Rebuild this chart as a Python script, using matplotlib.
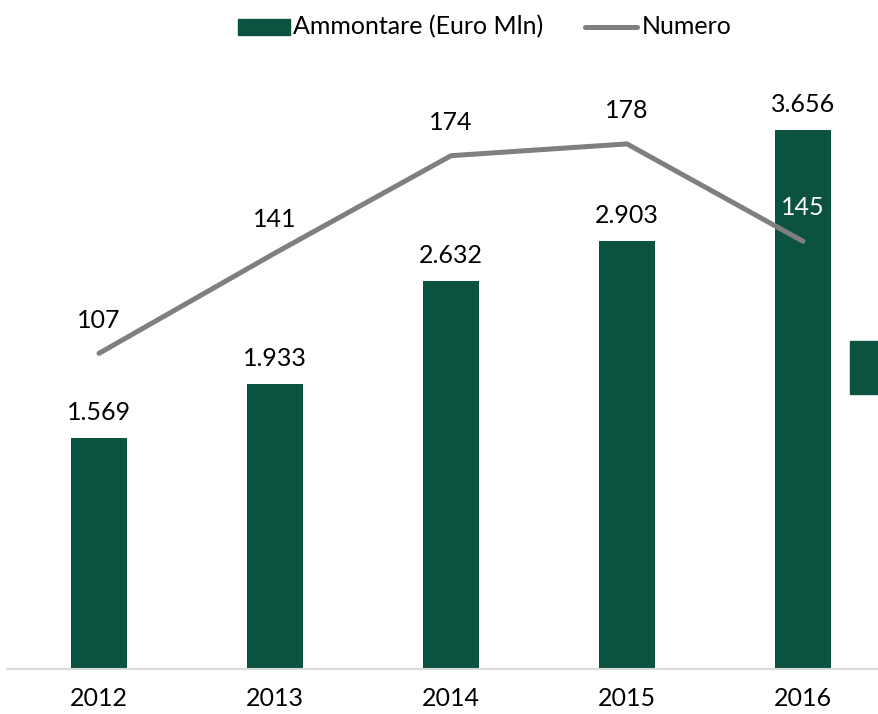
import matplotlib
matplotlib.use("Agg")
import matplotlib.pyplot as plt
from matplotlib.patches import Rectangle
from matplotlib.lines import Line2D

years = ["2012", "2013", "2014", "2015", "2016"]
ammontare = [1569, 1933, 2632, 2903, 3656]
ammontare_labels = ["1.569", "1.933", "2.632", "2.903", "3.656"]
numero = [107, 141, 174, 178, 145]

GREEN = "#0B5340"
GRAY = "#7F7F7F"
FONT = "Lato"
FS = 18

W, H = 879, 714
fig = plt.figure(figsize=(W / 100, H / 100), dpi=100)
left, right = 11 / W, 891 / W
bottom, top = (H - 669) / H, (H - 79) / H
ax = fig.add_axes([left, bottom, right - left, top - bottom])
x = list(range(len(years)))
ax.bar(x, ammontare, width=0.315, color=GREEN, zorder=2)
ax.set_xlim(-0.5, len(years) - 0.5)
ax.set_ylim(0, 4000)
ax.set_yticks([])
ax.set_xticks(x)
ax.set_xticklabels(years, fontfamily=FONT, fontsize=FS)
ax.tick_params(axis="x", length=0, pad=13)
for s in ["top", "right", "left"]:
    ax.spines[s].set_visible(False)
ax.spines["bottom"].set_visible(False)
# baseline
fig.lines.append(Line2D([7 / W, 1], [bottom, bottom], transform=fig.transFigure,
                        color="#D9D9D9", linewidth=1.5, figure=fig))

for xi, v, lab in zip(x, ammontare, ammontare_labels):
    ax.annotate(lab, (xi, v), xytext=(0, 18), textcoords="offset points",
                ha="center", va="center", fontfamily=FONT, fontsize=FS, color="black")

ax2 = ax.twinx()
ax2.set_ylim(0, 200)
ax2.set_yticks([])
for s in ax2.spines.values():
    s.set_visible(False)
ax2.plot(x, numero, color=GRAY, linewidth=3.6, solid_capstyle="round",
         solid_joinstyle="round", zorder=3)
for i, (xi, v) in enumerate(zip(x, numero)):
    col = "white" if i == len(x) - 1 else "black"
    ax2.annotate(str(v), (xi, v), xytext=(0, 24), textcoords="offset points",
                 ha="center", va="center", fontfamily=FONT, fontsize=FS, color=col)

# Legend (drawn in figure coordinates)
fig.patches.append(Rectangle((238 / W, 1 - 35 / H), 52 / W, 16 / H,
                             transform=fig.transFigure, color=GREEN, figure=fig))
fig.text(293 / W, 1 - 27 / H, "Ammontare (Euro Mln)", fontfamily=FONT, fontsize=FS,
         va="center", ha="left")
fig.lines.append(Line2D([585 / W, 637 / W], [1 - 27 / H, 1 - 27 / H], transform=fig.transFigure,
                        color=GRAY, linewidth=3.6, solid_capstyle="round", figure=fig))
fig.text(642 / W, 1 - 27 / H, "Numero", fontfamily=FONT, fontsize=FS,
         va="center", ha="left")

# Cropped element at right edge
fig.patches.append(Rectangle((850 / W, 1 - 394 / H), 40 / W, 53 / H,
                             transform=fig.transFigure, color=GREEN, figure=fig))

fig.savefig("out.png", dpi=100)
